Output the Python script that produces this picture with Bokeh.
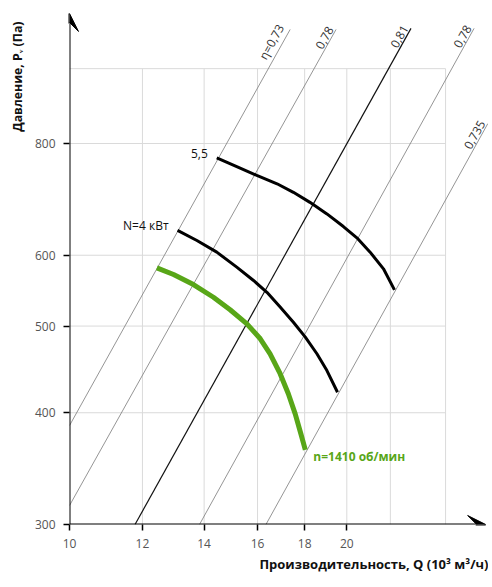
import math
from bokeh.plotting import figure
from bokeh.models import Arrow, VeeHead, Label, FixedTicker, Range1d, PrintfTickFormatter, Title
from bokeh.embed import file_html
from bokeh.resources import INLINE
from bokeh.core.properties import value

# ---- data ----
x_ticks = [10, 12, 14, 16, 18, 20]
x_grid = [12, 14, 16, 18, 20, 22.3, 25.6]
y_ticks = [300, 400, 500, 600, 800]
y_grid = [400, 500, 600, 800, 970]

green_q = [12.44, 12.97, 13.63, 14.33, 14.94, 15.58, 16.11, 16.51, 16.93, 17.28, 17.58, 17.83, 18.03]
green_p = [580.9, 570.9, 556.4, 538.5, 521.4, 502.8, 483.9, 465.6, 442.3, 420.1, 398.9, 378.9, 363.6]
n4_q = [13.10, 13.75, 14.45, 15.19, 15.84, 16.38, 16.93, 17.50, 18.03, 18.56, 19.03, 19.54]
n4_p = [639.6, 623.2, 604.8, 581.9, 562.3, 545.4, 525.0, 504.9, 485.9, 465.6, 445.9, 421.7]
n55_q = [14.45, 15.19, 15.97, 16.80, 17.50, 18.24, 19.03, 19.83, 20.51, 21.20, 21.92, 22.53]
n55_p = [771.1, 753.9, 736.9, 721.2, 705.5, 687.5, 667.4, 646.0, 627.5, 604.8, 579.4, 548.9]
curve_labels = ["5,5", "N=4 кВт", "n=1410 об/мин"]

eta_labels = ["η=0,73", "0,78", "0,81", "0,78", "0,735"]
eta_q0 = [10.0, 10.0, 11.78, 13.84, 16.34]
eta_p0 = [387, 315, 300, 300, 300]
eta_q1 = [17.36, 19.47, 23.48, 27.49, 28.45]
eta_p1 = [1073, 1073, 1076, 1076, 842]

x_title = "Производительность, Q (10³ м³/ч)"
y_title = "Давление, Pᵥ (Па)"

# ---- styles ----
GREEN = "#58a618"
eta_colors = ["#7a7a7a", "#7a7a7a", "#111111", "#7a7a7a", "#7a7a7a"]
eta_widths = [0.8, 0.8, 1.2, 0.8, 0.8]
FONT = "Open Sans"

p = figure(width=488, height=583, x_axis_type="log", y_axis_type="log",
           x_range=Range1d(10, 28.5), y_range=Range1d(300, 1156),
           min_border_left=69, min_border_right=0, min_border_top=0, min_border_bottom=59,
           output_backend="svg", toolbar_location=None)
p.outline_line_color = None
p.grid.visible = False
p.background_fill_color = "white"

for ax, ticks in ((p.xaxis[0], x_ticks), (p.yaxis[0], y_ticks)):
    ax.ticker = FixedTicker(ticks=ticks)
    ax.formatter = PrintfTickFormatter(format="%d")
    ax.axis_line_color = None
    ax.major_tick_line_color = "black"
    ax.major_tick_line_width = 1.5
    ax.major_tick_in = 0
    ax.major_tick_out = 6
    ax.minor_tick_line_color = None
    ax.major_label_text_font = FONT
    ax.major_label_text_font_size = "12px"
    ax.major_label_text_color = "#555555"
    ax.major_label_standoff = 8

# grid
p.segment(x0=x_grid, x1=x_grid, y0=[y_ticks[0]] * len(x_grid), y1=[y_grid[-1]] * len(x_grid),
          line_color="#dadada", line_width=1)
p.segment(x0=[x_ticks[0]] * len(y_grid), x1=[x_grid[-1]] * len(y_grid), y0=y_grid, y1=y_grid,
          line_color="#dadada", line_width=1)

# efficiency lines
p.segment(x0=eta_q0, y0=eta_p0, x1=eta_q1, y1=eta_p1, line_color=eta_colors, line_width=eta_widths)
ang = math.atan(1.8)
p.text(x=eta_q1, y=eta_p1, text=eta_labels, angle=ang, text_align="right", text_baseline="bottom",
       x_offset=-2, text_font=value(FONT), text_font_size="12px", text_color="#333333")

# curves
p.line(n55_q, n55_p, line_color="black", line_width=3, line_join="round")
p.line(n4_q, n4_p, line_color="black", line_width=3, line_join="round")
p.line(green_q, green_p, line_color=GREEN, line_width=5, line_join="round")

p.add_layout(Label(x=n55_q[0], y=n55_p[0], text=curve_labels[0], x_offset=-9, y_offset=4,
                   text_align="right", text_baseline="middle", text_font=FONT,
                   text_font_size="12px", text_color="#111111"))
p.add_layout(Label(x=n4_q[0], y=n4_p[0], text=curve_labels[1], x_offset=-9, y_offset=5,
                   text_align="right", text_baseline="middle", text_font=FONT,
                   text_font_size="12px", text_color="#111111"))
p.add_layout(Label(x=green_q[-1], y=green_p[-1], text=curve_labels[2], x_offset=8, y_offset=-7,
                   text_align="left", text_baseline="middle", text_font=FONT,
                   text_font_size="12px", text_font_style="bold", text_color=GREEN))

# axes arrows
p.add_layout(Arrow(end=VeeHead(size=18, fill_color="black", line_color="black"),
                   x_start=10, y_start=300, x_end=28.3, y_end=300, line_width=2, line_color="black"))
p.add_layout(Arrow(end=VeeHead(size=18, fill_color="black", line_color="black"),
                   x_start=10, y_start=300, x_end=10, y_end=1118, line_width=2, line_color="black"))

# axis titles
p.add_layout(Title(text=x_title, align="right", offset=0, standoff=4, text_font=FONT,
                   text_font_size="13px", text_font_style="bold", text_color="#111111"), "below")
p.add_layout(Title(text=y_title, align="right", offset=21, standoff=12, text_font=FONT,
                   text_font_size="12.3px", text_font_style="bold", text_color="#111111"), "left")

open("out.html", "w").write(file_html(p, INLINE))
